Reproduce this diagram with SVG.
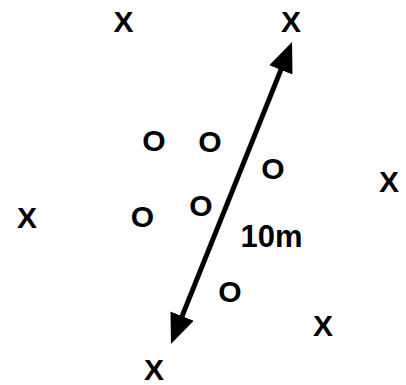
<svg xmlns="http://www.w3.org/2000/svg" width="406" height="385" viewBox="0 0 406 385">
<style>
.t{font-family:"Liberation Sans",Arial,sans-serif;font-weight:bold;font-size:30px;fill:#000;text-anchor:middle}
.c{stroke:#000;stroke-width:5;fill:none}
</style>
<defs>
<marker id="ah" markerUnits="userSpaceOnUse" viewBox="0 0 30 25" markerWidth="30" markerHeight="25" refX="10" refY="12.5" orient="auto-start-reverse">
<path d="M0,0 L30,12.5 L0,25 z" fill="#000"/>
</marker>
</defs>
<rect width="406" height="385" fill="#fff"/>
<g id="connectors">
<line class="c" x1="178.4" y1="325.4" x2="284.6" y2="60.6" marker-start="url(#ah)" marker-end="url(#ah)"/>
</g>
<g id="x1"><text class="t" x="123.5" y="32">X</text></g>
<g id="x2"><text class="t" x="291" y="32">X</text></g>
<g id="x3"><text class="t" x="27" y="228">X</text></g>
<g id="x4"><text class="t" x="389" y="192">X</text></g>
<g id="x5"><text class="t" x="323" y="336">X</text></g>
<g id="x6"><text class="t" x="154" y="380">X</text></g>
<g id="o1"><text class="t" x="154" y="151">O</text></g>
<g id="o2"><text class="t" x="210" y="152">O</text></g>
<g id="o3"><text class="t" x="273" y="179">O</text></g>
<g id="o4"><text class="t" x="142.5" y="227">O</text></g>
<g id="o5"><text class="t" x="201" y="216">O</text></g>
<g id="o6"><text class="t" x="230" y="302">O</text></g>
<g id="label"><text class="t" x="271.5" y="247" style="font-size:31px">10m</text></g>
</svg>
